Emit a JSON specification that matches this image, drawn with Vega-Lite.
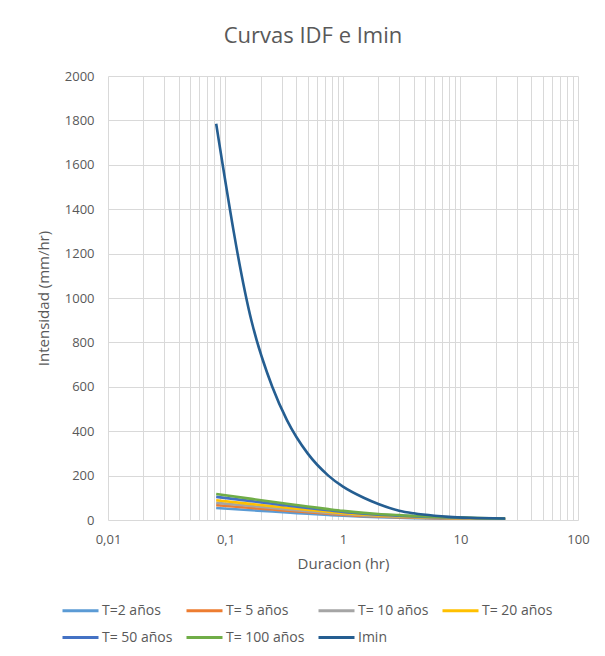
{
  "$schema": "https://vega.github.io/schema/vega-lite/v6.json",
  "autosize": "none",
  "width": 470,
  "height": 444,
  "padding": {"left": 108, "top": 76, "right": 27, "bottom": 136},
  "background": "white",
  "title": {"text": "Curvas IDF e Imin", "fontSize": 22, "font": "Open Sans", "fontWeight": "normal", "color": "#595959", "anchor": "middle", "dx": -30, "offset": 22},
  "config": {"view": {"stroke": null}, "font": "Open Sans"},
  "datasets": {
    "idf": [
      {"serie": "T=2 años", "t": 0.0833, "i": 54}, {"serie": "T=2 años", "t": 0.1667, "i": 44}, {"serie": "T=2 años", "t": 0.25, "i": 38}, {"serie": "T=2 años", "t": 0.3333, "i": 34}, {"serie": "T=2 años", "t": 0.5, "i": 28}, {"serie": "T=2 años", "t": 0.75, "i": 22.5}, {"serie": "T=2 años", "t": 1, "i": 19}, {"serie": "T=2 años", "t": 1.5, "i": 14.7}, {"serie": "T=2 años", "t": 2, "i": 12.5}, {"serie": "T=2 años", "t": 3, "i": 10}, {"serie": "T=2 años", "t": 4, "i": 8.5}, {"serie": "T=2 años", "t": 6, "i": 6.7}, {"serie": "T=2 años", "t": 8, "i": 5.8}, {"serie": "T=2 años", "t": 12, "i": 4.6}, {"serie": "T=2 años", "t": 24, "i": 3},
      {"serie": "T= 5 años", "t": 0.0833, "i": 67}, {"serie": "T= 5 años", "t": 0.1667, "i": 54}, {"serie": "T= 5 años", "t": 0.25, "i": 47}, {"serie": "T= 5 años", "t": 0.3333, "i": 42}, {"serie": "T= 5 años", "t": 0.5, "i": 35}, {"serie": "T= 5 años", "t": 0.75, "i": 28}, {"serie": "T= 5 años", "t": 1, "i": 23.5}, {"serie": "T= 5 años", "t": 1.5, "i": 18}, {"serie": "T= 5 años", "t": 2, "i": 15.5}, {"serie": "T= 5 años", "t": 3, "i": 12.5}, {"serie": "T= 5 años", "t": 4, "i": 10.5}, {"serie": "T= 5 años", "t": 6, "i": 8.3}, {"serie": "T= 5 años", "t": 8, "i": 7.1}, {"serie": "T= 5 años", "t": 12, "i": 5.7}, {"serie": "T= 5 años", "t": 24, "i": 3.7},
      {"serie": "T= 10 años", "t": 0.0833, "i": 77}, {"serie": "T= 10 años", "t": 0.1667, "i": 63}, {"serie": "T= 10 años", "t": 0.25, "i": 54}, {"serie": "T= 10 años", "t": 0.3333, "i": 48}, {"serie": "T= 10 años", "t": 0.5, "i": 40}, {"serie": "T= 10 años", "t": 0.75, "i": 32}, {"serie": "T= 10 años", "t": 1, "i": 27}, {"serie": "T= 10 años", "t": 1.5, "i": 21}, {"serie": "T= 10 años", "t": 2, "i": 18}, {"serie": "T= 10 años", "t": 3, "i": 14.5}, {"serie": "T= 10 años", "t": 4, "i": 12.2}, {"serie": "T= 10 años", "t": 6, "i": 9.6}, {"serie": "T= 10 años", "t": 8, "i": 8.2}, {"serie": "T= 10 años", "t": 12, "i": 6.6}, {"serie": "T= 10 años", "t": 24, "i": 4.3},
      {"serie": "T= 20 años", "t": 0.0833, "i": 89}, {"serie": "T= 20 años", "t": 0.1667, "i": 72}, {"serie": "T= 20 años", "t": 0.25, "i": 62}, {"serie": "T= 20 años", "t": 0.3333, "i": 55.5}, {"serie": "T= 20 años", "t": 0.5, "i": 46}, {"serie": "T= 20 años", "t": 0.75, "i": 37}, {"serie": "T= 20 años", "t": 1, "i": 31}, {"serie": "T= 20 años", "t": 1.5, "i": 24.5}, {"serie": "T= 20 años", "t": 2, "i": 20.5}, {"serie": "T= 20 años", "t": 3, "i": 16.7}, {"serie": "T= 20 años", "t": 4, "i": 14}, {"serie": "T= 20 años", "t": 6, "i": 11}, {"serie": "T= 20 años", "t": 8, "i": 9.5}, {"serie": "T= 20 años", "t": 12, "i": 7.6}, {"serie": "T= 20 años", "t": 24, "i": 5},
      {"serie": "T= 50 años", "t": 0.0833, "i": 104}, {"serie": "T= 50 años", "t": 0.1667, "i": 85}, {"serie": "T= 50 años", "t": 0.25, "i": 73}, {"serie": "T= 50 años", "t": 0.3333, "i": 65}, {"serie": "T= 50 años", "t": 0.5, "i": 54}, {"serie": "T= 50 años", "t": 0.75, "i": 44}, {"serie": "T= 50 años", "t": 1, "i": 36.5}, {"serie": "T= 50 años", "t": 1.5, "i": 28.5}, {"serie": "T= 50 años", "t": 2, "i": 24}, {"serie": "T= 50 años", "t": 3, "i": 19.5}, {"serie": "T= 50 años", "t": 4, "i": 16.5}, {"serie": "T= 50 años", "t": 6, "i": 13}, {"serie": "T= 50 años", "t": 8, "i": 11}, {"serie": "T= 50 años", "t": 12, "i": 9}, {"serie": "T= 50 años", "t": 24, "i": 5.8},
      {"serie": "T= 100 años", "t": 0.0833, "i": 117}, {"serie": "T= 100 años", "t": 0.1667, "i": 95}, {"serie": "T= 100 años", "t": 0.25, "i": 82}, {"serie": "T= 100 años", "t": 0.3333, "i": 73}, {"serie": "T= 100 años", "t": 0.5, "i": 61}, {"serie": "T= 100 años", "t": 0.75, "i": 49}, {"serie": "T= 100 años", "t": 1, "i": 41}, {"serie": "T= 100 años", "t": 1.5, "i": 32}, {"serie": "T= 100 años", "t": 2, "i": 27}, {"serie": "T= 100 años", "t": 3, "i": 22}, {"serie": "T= 100 años", "t": 4, "i": 18.5}, {"serie": "T= 100 años", "t": 6, "i": 14.5}, {"serie": "T= 100 años", "t": 8, "i": 12.5}, {"serie": "T= 100 años", "t": 12, "i": 10}, {"serie": "T= 100 años", "t": 24, "i": 6.5},
      {"serie": "Imin", "t": 0.0833, "i": 1785}, {"serie": "Imin", "t": 0.1667, "i": 895}, {"serie": "Imin", "t": 0.25, "i": 600}, {"serie": "Imin", "t": 0.3333, "i": 450}, {"serie": "Imin", "t": 0.5, "i": 300}, {"serie": "Imin", "t": 0.75, "i": 200}, {"serie": "Imin", "t": 1, "i": 150}, {"serie": "Imin", "t": 1.5, "i": 100}, {"serie": "Imin", "t": 2, "i": 72}, {"serie": "Imin", "t": 3, "i": 42}, {"serie": "Imin", "t": 4, "i": 30}, {"serie": "Imin", "t": 6, "i": 19}, {"serie": "Imin", "t": 8, "i": 14}, {"serie": "Imin", "t": 12, "i": 10}, {"serie": "Imin", "t": 24, "i": 7}
    ]
  },
  "data": {"name": "idf"},
  "mark": {"type": "line", "interpolate": "monotone", "strokeWidth": 2.6, "clip": true},
  "encoding": {
    "x": {
      "field": "t", "type": "quantitative",
      "scale": {"type": "log", "domain": [0.01, 100], "nice": false},
      "axis": {
        "title": "Duracion (hr)",
        "values": [0.01, 0.02, 0.03, 0.04, 0.05, 0.06, 0.07, 0.08, 0.09, 0.1, 0.2, 0.3, 0.4, 0.5, 0.6, 0.7, 0.8, 0.9, 1, 2, 3, 4, 5, 6, 7, 8, 9, 10, 20, 30, 40, 50, 60, 70, 80, 90, 100],
        "labelExpr": "datum.value == 0.01 ? '0,01' : datum.value == 0.1 ? '0,1' : datum.value == 1 ? '1' : datum.value == 10 ? '10' : datum.value == 100 ? '100' : ''",
        "labelOverlap": false, "labelFlush": false,
        "ticks": false, "domain": false,
        "grid": true, "gridColor": "#d9d9d9", "gridWidth": 1,
        "labelFontSize": 13, "labelColor": "#595959", "labelPadding": 13,
        "titleFontSize": 15, "titleColor": "#595959", "titleFontWeight": "normal", "titlePadding": 10
      }
    },
    "y": {
      "field": "i", "type": "quantitative",
      "scale": {"domain": [0, 2000], "nice": false},
      "axis": {
        "title": "Intensidad (mm/hr)",
        "format": "d",
        "values": [0, 200, 400, 600, 800, 1000, 1200, 1400, 1600, 1800, 2000],
        "ticks": false, "domain": false,
        "grid": true, "gridColor": "#d9d9d9", "gridWidth": 1,
        "labelFontSize": 13, "labelColor": "#595959", "labelPadding": 14,
        "titleFontSize": 15, "titleColor": "#595959", "titleFontWeight": "normal", "titlePadding": 13
      }
    },
    "color": {
      "field": "serie", "type": "nominal",
      "scale": {
        "domain": ["T=2 años", "T= 5 años", "T= 10 años", "T= 20 años", "T= 50 años", "T= 100 años", "Imin"],
        "range": ["#5B9BD5", "#ED7D31", "#A5A5A5", "#FFC000", "#4472C4", "#70AD47", "#255E91"]
      },
      "legend": {
        "title": null, "orient": "none", "legendX": -47, "legendY": 515,
        "direction": "horizontal", "columns": 4,
        "symbolType": "stroke", "symbolSize": 1296, "symbolStrokeWidth": 3,
        "labelFontSize": 14, "labelColor": "#595959", "labelOffset": 2,
        "columnPadding": 7, "rowPadding": -7, "labelLimit": 200
      }
    },
    "strokeWidth": {
      "condition": {"test": "datum.serie == 'Imin'", "value": 3},
      "value": 2.6
    }
  }
}
